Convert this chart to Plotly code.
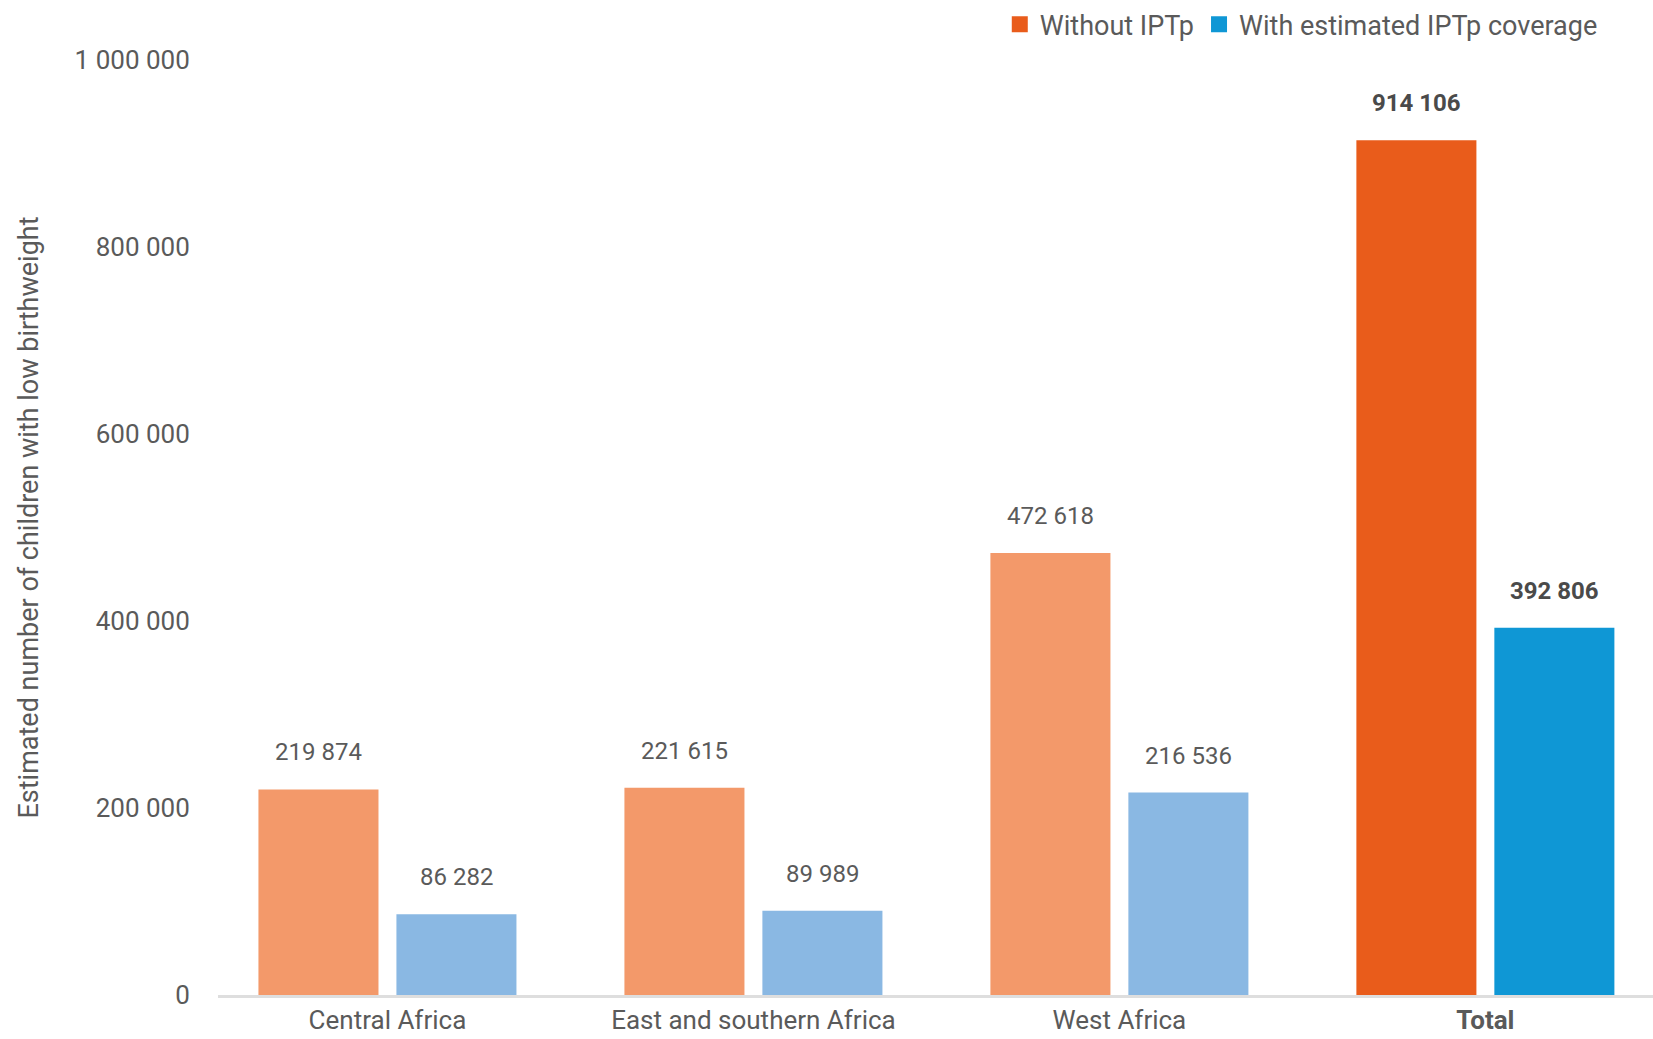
import plotly.graph_objects as go

# Low-birthweight births by region, with and without IPTp
CATEGORIES = ["Central Africa", "East and southern Africa", "West Africa", "Total"]
WITHOUT_IPTP = [219874, 221615, 472618, 914106]
WITH_IPTP = [86282, 89989, 216536, 392806]
SERIES_NAMES = ["Without IPTp", "With estimated IPTp coverage"]
Y_TICKS = [0, 200000, 400000, 600000, 800000, 1000000]

# Regional bars are light, the total bars are saturated
ORANGE_LIGHT, ORANGE_DARK = "#F3996A", "#E95C1B"
BLUE_LIGHT, BLUE_DARK = "#8AB8E3", "#0F97D5"
TEXT = "#5a5a5a"
FONT = "Roboto"

BARGAP = 0.246
BARGROUPGAP = 0.13


def fmt(v):
    return f"{v:,}".replace(",", " ")


def colors(light, dark):
    return [dark if c == "Total" else light for c in CATEGORIES]


tick_text = [f"<b>{c}</b>" if c == "Total" else c for c in CATEGORIES]

fig = go.Figure()
fig.add_trace(go.Bar(x=CATEGORIES, y=WITHOUT_IPTP, name=SERIES_NAMES[0],
                     marker=dict(color=colors(ORANGE_LIGHT, ORANGE_DARK), line_width=0),
                     showlegend=False))
fig.add_trace(go.Bar(x=CATEGORIES, y=WITH_IPTP, name=SERIES_NAMES[1],
                     marker=dict(color=colors(BLUE_LIGHT, BLUE_DARK), line_width=0),
                     showlegend=False))

# Legend keys in the saturated colours
for name, col in zip(SERIES_NAMES, [ORANGE_DARK, BLUE_DARK]):
    fig.add_trace(go.Scatter(x=[None], y=[None], mode="markers", name=name,
                             marker=dict(symbol="square", size=20, color=col)))

# Value labels above each bar
offset = (1 - BARGAP) / 4
annotations = []
for i, cat in enumerate(CATEGORIES):
    bold = cat == "Total"
    for vals, sign in ((WITHOUT_IPTP, -1), (WITH_IPTP, 1)):
        v = vals[i]
        annotations.append(dict(
            x=i + sign * offset, y=v, xref="x", yref="y",
            text=f"<b>{fmt(v)}</b>" if bold else fmt(v),
            showarrow=False, yanchor="bottom", yshift=21,
            font=dict(family=FONT, size=24, color="#4a4a4a" if bold else TEXT),
        ))

fig.update_layout(
    width=1653, height=1039,
    margin=dict(l=218, r=0, t=40, b=44, autoexpand=False),
    paper_bgcolor="white", plot_bgcolor="white",
    barmode="group", bargap=BARGAP, bargroupgap=BARGROUPGAP,
    font=dict(family=FONT, color=TEXT, size=24),
    showlegend=True,
    legend=dict(orientation="h", x=0.965, xanchor="right", y=1.016, yanchor="middle",
                font=dict(family=FONT, size=27, color=TEXT),
                itemsizing="trace", itemwidth=30, tracegroupgap=0,
                bgcolor="rgba(0,0,0,0)"),
    annotations=annotations,
)

fig.update_xaxes(
    type="category", range=[-0.463, 3.458],
    tickvals=CATEGORIES, ticktext=tick_text,
    showline=True, linecolor="#dedede", linewidth=3,
    showgrid=False, zeroline=False,
    ticks="outside", ticklen=0, tickcolor="rgba(0,0,0,0)",
    tickfont=dict(family=FONT, size=26, color=TEXT),
)

fig.update_yaxes(
    range=[0, 1021390],
    tickvals=Y_TICKS, ticktext=[fmt(v) for v in Y_TICKS],
    showline=False, showgrid=False, zeroline=False,
    ticks="outside", ticklen=22, tickcolor="rgba(0,0,0,0)",
    tickfont=dict(family=FONT, size=26, color=TEXT),
    title=dict(text="Estimated number of children with low birthweight",
               font=dict(family=FONT, size=27, color=TEXT), standoff=28),
)

fig.write_html("out.html")
